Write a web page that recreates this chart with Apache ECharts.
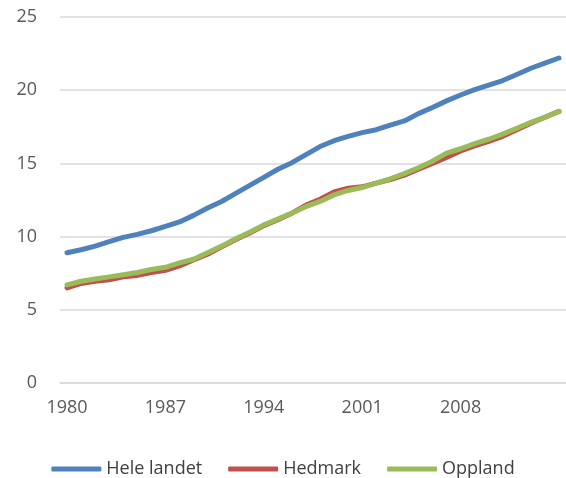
<!DOCTYPE html>
<html>
<head>
<meta charset="utf-8">
<script src="https://cdn.jsdelivr.net/npm/echarts@6/dist/echarts.min.js"></script>
<style>
  html, body { margin: 0; padding: 0; background: #fff; }
  #chart { width: 566px; height: 478px; }
</style>
</head>
<body>
<div id="chart"></div>
<script>
var years = [];
for (var y = 1980; y <= 2015; y++) years.push(String(y));

var heleLandet = [8.9, 9.1, 9.35, 9.65, 9.95, 10.15, 10.4, 10.7, 11.0, 11.45,
  11.95, 12.4, 12.95, 13.5, 14.05, 14.6, 15.05, 15.6, 16.15, 16.55,
  16.85, 17.1, 17.3, 17.62, 17.9, 18.4, 18.82, 19.27, 19.67, 20.04,
  20.35, 20.66, 21.07, 21.5, 21.85, 22.2];
var hedmark = [6.5, 6.8, 6.95, 7.05, 7.25, 7.35, 7.55, 7.7, 8.0, 8.4,
  8.8, 9.3, 9.8, 10.25, 10.75, 11.15, 11.6, 12.15, 12.55, 13.05,
  13.3, 13.4, 13.65, 13.9, 14.2, 14.6, 15.0, 15.4, 15.85, 16.2,
  16.5, 16.85, 17.3, 17.75, 18.15, 18.55];
var oppland = [6.7, 6.95, 7.1, 7.25, 7.4, 7.55, 7.75, 7.9, 8.2, 8.45,
  8.9, 9.35, 9.85, 10.3, 10.8, 11.2, 11.6, 12.05, 12.4, 12.85,
  13.15, 13.35, 13.65, 13.95, 14.3, 14.7, 15.15, 15.7, 16.0, 16.35,
  16.65, 17.0, 17.4, 17.8, 18.15, 18.55];

var seriesNames = ['Hele landet', 'Hedmark', 'Oppland'];
var colors = ['#4F81BD', '#C0504D', '#9BBB59'];
var values = [heleLandet, hedmark, oppland];

var chart = echarts.init(document.getElementById('chart'));
var font = '"Open Sans", sans-serif';

chart.setOption({
  animation: false,
  color: colors,
  grid: { left: 60, right: 0, top: 17, bottom: 95, outerBoundsMode: 'none', containLabel: false },
  legend: {
    top: 455,
    left: 'center',
    itemWidth: 50,
    itemHeight: 5,
    itemGap: 26,
    icon: 'roundRect',
    textStyle: { fontFamily: font, fontSize: 18, color: '#404040' },
    data: seriesNames
  },
  xAxis: {
    type: 'category',
    data: years,
    boundaryGap: true,
    axisLine: { lineStyle: { color: '#D9D9D9', width: 1.5 } },
    axisTick: { show: false },
    axisLabel: {
      interval: function (i) { return i % 7 === 0 && i < 35; },
      margin: 16,
      fontFamily: font,
      fontSize: 18,
      color: '#595959'
    }
  },
  yAxis: {
    type: 'value',
    min: 0,
    max: 25,
    interval: 5,
    axisLine: { show: false },
    axisTick: { show: false },
    axisLabel: { margin: 23, fontFamily: font, fontSize: 18, color: '#595959' },
    splitLine: { lineStyle: { color: '#D9D9D9', width: 1.5 } }
  },
  series: seriesNames.map(function (name, i) {
    return {
      name: name,
      type: 'line',
      data: values[i],
      showSymbol: false,
      symbol: 'none',
      lineStyle: { color: colors[i], width: 5, cap: 'round', join: 'round' },
      itemStyle: { color: colors[i] }
    };
  })
});
</script>
</body>
</html>
